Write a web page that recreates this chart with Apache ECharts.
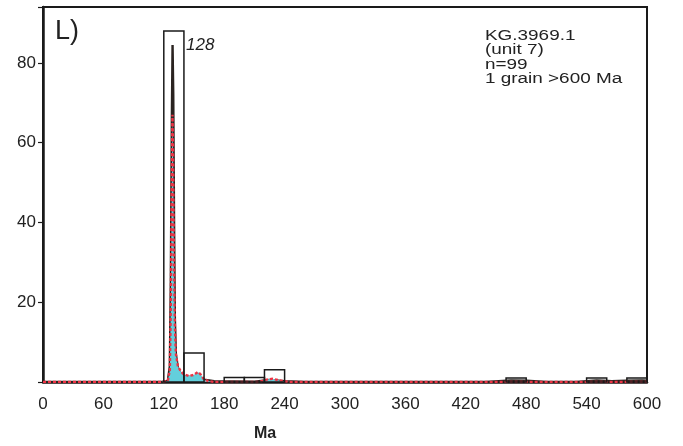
<!DOCTYPE html>
<html>
<head>
<meta charset="utf-8">
<script src="https://cdn.jsdelivr.net/npm/echarts@6/dist/echarts.min.js"></script>
<style>
html,body{margin:0;padding:0;background:#fff;}
#main{width:683px;height:446px;}
</style>
</head>
<body>
<div id="main"></div>
<script>
// histogram bins (Ma) and counts
var binStart = [120, 140, 180, 200, 220, 460, 540, 580];
var binEnd   = [140, 160, 200, 220, 240, 480, 560, 600];
var binCount = [88, 7.3, 1.1, 1.1, 3.1, 1, 1, 1];

// probability density plot (red dashed, cyan fill)
var pdpAge = [0, 118, 124, 126, 127, 128, 128.6, 129.2, 130, 131, 132, 134, 137, 140, 145, 150, 154, 157, 160, 165, 170, 215, 222, 228, 235, 245, 600];
var pdpVal = [0, 0, 0.3, 3, 20, 52, 67, 58, 33, 14, 7, 4, 2.6, 1.9, 1.5, 1.8, 2.5, 1.8, 0.6, 0.2, 0, 0, 0.6, 0.8, 0.4, 0, 0];

// kernel density estimate (black)
var kdeAge = [0, 118, 124, 126, 127, 128, 128.7, 129.4, 130.2, 131, 132, 134, 137, 140, 150, 160, 170, 210, 225, 240, 260, 440, 465, 480, 500, 530, 550, 565, 580, 595, 600];
var kdeVal = [0, 0, 0.3, 4, 26, 66, 84.5, 72, 40, 16, 7, 3.5, 2, 1.4, 1.2, 0.6, 0.2, 0.1, 0.5, 0.2, 0, 0, 0.4, 0.3, 0, 0, 0.4, 0.2, 0.3, 0.4, 0.3];

var yTicks = [20, 40, 60, 80];

function pairs(a, b) {
	var out = [];
	for (var i = 0; i < a.length; i++) out.push([a[i], b[i]]);
	return out;
}

var bins = [];
for (var i = 0; i < binStart.length; i++) bins.push([binStart[i], binEnd[i], binCount[i]]);

var chart = echarts.init(document.getElementById('main'));
var font = 'Liberation Sans, Arial, sans-serif';

chart.setOption({
	animation: false,
	grid: { left: 43, right: 36, top: 7, bottom: 64, show: true, borderColor: '#1a1a1a', borderWidth: 2 },
	xAxis: {
		type: 'value', min: 0, max: 600, interval: 60,
		splitLine: { show: false },
		axisLine: { show: true, lineStyle: { color: '#1a1a1a', width: 2.5 } },
		axisTick: { show: false },
		axisLabel: { color: '#222', fontSize: 17, fontFamily: font, margin: 14 }
	},
	yAxis: {
		type: 'value', min: 0, max: 94, interval: 20,
		splitLine: { show: false },
		axisLine: { show: true, lineStyle: { color: '#1a1a1a', width: 2.5 } },
		axisTick: { show: true, length: 5, lineStyle: { color: '#1a1a1a', width: 1.2 } },
		axisLabel: {
			color: '#222', fontSize: 17, fontFamily: font, margin: 7,
			formatter: function (v) { return yTicks.indexOf(v) >= 0 ? v : ''; }
		}
	},
	series: [
		{
			type: 'line', data: pairs(pdpAge, pdpVal), symbol: 'none', z: 3,
			lineStyle: { color: '#ee3344', width: 2.4, type: [3, 2] },
			areaStyle: { color: '#63cfdc', opacity: 1 }
		},
		{
			type: 'line', data: pairs(kdeAge, kdeVal), symbol: 'none', z: 2,
			lineStyle: { color: '#2a2320', width: 2.4 }
		},
		{
			type: 'custom', data: bins, z: 4,
			renderItem: function (params, api) {
				var p0 = api.coord([api.value(0), api.value(2)]);
				var p1 = api.coord([api.value(1), 0]);
				return {
					type: 'rect',
					shape: { x: p0[0], y: p0[1], width: p1[0] - p0[0], height: p1[1] - p0[1] },
					style: { fill: 'none', stroke: '#1a1a1a', lineWidth: 1.5 }
				};
			}
		}
	],
	graphic: [
		{ type: 'text', left: 55, top: 18, style: { text: 'L)', fontSize: 27, fontFamily: font, fill: '#222' } },
		{ type: 'text', left: 186, top: 37, style: { text: '128', fontSize: 17, fontStyle: 'italic', fontFamily: font, fill: '#222' } },
		{ type: 'text', x: 485, y: 28, scaleX: 1.22, style: { text: 'KG.3969.1\n(unit 7)\nn=99\n1 grain >600 Ma', fontSize: 15.5, lineHeight: 14.6, fontFamily: font, fill: '#222' } },
		{ type: 'text', left: 254, top: 426, style: { text: 'Ma', fontSize: 16, fontWeight: 'bold', fontFamily: font, fill: '#222' } }
	]
});
</script>
</body>
</html>
